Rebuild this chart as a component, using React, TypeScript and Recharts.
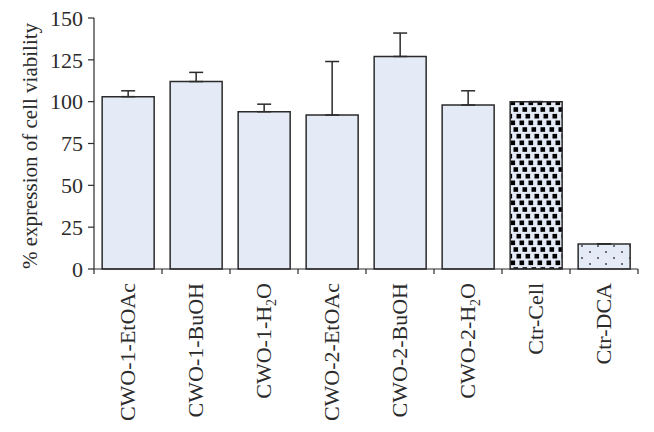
import { BarChart, Bar, XAxis, YAxis, Cell, ErrorBar } from 'recharts';

const categories = [
  'CWO-1-EtOAc',
  'CWO-1-BuOH',
  'CWO-1-H2O',
  'CWO-2-EtOAc',
  'CWO-2-BuOH',
  'CWO-2-H2O',
  'Ctr-Cell',
  'Ctr-DCA',
];
const viability = [103, 112, 94, 92, 127, 98, 100, 15];
const errorUp = [3.5, 5.5, 4.5, 32, 14, 8.5, 0, 0];
const yTicks = [0, 25, 50, 75, 100, 125, 150];

const FONT = '"Liberation Serif", "Times New Roman", serif';
const BAR_FILL = '#e5ebf6';
const INK = '#2b2b2b';

const W = 654;
const H = 432;
const MARGIN = { top: 18, right: 16, bottom: 0, left: 0 };
const Y_AXIS_W = 94;
const X_AXIS_H = 163;
const BAND = (W - MARGIN.left - MARGIN.right - Y_AXIS_W) / categories.length;

const data = categories.map((name, i) => ({
  name,
  value: viability[i],
  err: [0, errorUp[i]],
}));

function CategoryTick(props: any) {
  const { x, y, payload, index } = props;
  const label: string = payload.value;
  const bx = x - BAND / 2;
  const ty = y + 14;
  const tx = x + 7;
  const parts = label.split('H2O');
  return (
    <g>
      <line x1={bx} y1={y} x2={bx} y2={y + 5} stroke={INK} strokeWidth={1.2} />
      {index === categories.length - 1 && (
        <line x1={x + BAND / 2} y1={y} x2={x + BAND / 2} y2={y + 5} stroke={INK} strokeWidth={1.2} />
      )}
      <text
        x={tx}
        y={ty}
        transform={`rotate(-90, ${tx}, ${ty})`}
        textAnchor="end"
        fontFamily={FONT}
        fontSize={22}
        fill={INK}
      >
        {parts.length > 1 ? (
          <>
            {parts[0]}H
            <tspan fontSize={14} dy={5}>2</tspan>
            <tspan dy={-5}>O</tspan>
          </>
        ) : (
          label
        )}
      </text>
    </g>
  );
}

function YLabel() {
  return (
    <text
      x={30}
      y={146}
      transform="rotate(-90, 30, 146)"
      textAnchor="middle"
      dominantBaseline="central"
      fontFamily={FONT}
      fontSize={21}
      fill={INK}
    >
      % expression of cell viability
    </text>
  );
}

export default function App() {
  return (
    <div style={{ position: 'absolute', left: 0, top: 0, background: '#fff' }}>
      <BarChart width={W} height={H} data={data} margin={MARGIN} barCategoryGap="12%">
        <defs>
          <pattern id="cellPat" width="9" height="20" patternUnits="userSpaceOnUse" x="510" y="0">
            <rect width="9" height="20" fill={BAR_FILL} />
            <rect x="0.5" y="0.5" width="4.6" height="4.6" fill="#000" />
            <rect x="3.5" y="7.2" width="4.6" height="4.6" fill="#000" />
            <rect x="6.5" y="13.9" width="4.6" height="4.6" fill="#000" />
            <rect x="-2.5" y="13.9" width="4.6" height="4.6" fill="#000" />
          </pattern>
          <pattern id="dcaPat" width="16" height="12" patternUnits="userSpaceOnUse" x="578" y="243">
            <rect width="16" height="12" fill={BAR_FILL} />
            <circle cx="4" cy="3" r="0.9" fill="#333" />
            <circle cx="12" cy="9" r="0.9" fill="#333" />
          </pattern>
        </defs>
        <XAxis
          dataKey="name"
          height={X_AXIS_H}
          interval={0}
          tickLine={false}
          tickSize={0}
          tickMargin={0}
          axisLine={{ stroke: INK, strokeWidth: 1.2 }}
          tick={<CategoryTick />}
        />
        <YAxis
          width={Y_AXIS_W}
          domain={[0, 150]}
          ticks={yTicks}
          interval={0}
          tickSize={6}
          tickMargin={5}
          axisLine={{ stroke: INK, strokeWidth: 1.2 }}
          tickLine={{ stroke: INK, strokeWidth: 1.2 }}
          tick={{ fontFamily: FONT, fontSize: 22, fill: INK }}
          label={<YLabel />}
        />
        <Bar dataKey="value" stroke={INK} strokeWidth={1.5} isAnimationActive={false}>
          {data.map((d) => (
            <Cell
              key={d.name}
              fill={d.name === 'Ctr-Cell' ? 'url(#cellPat)' : d.name === 'Ctr-DCA' ? 'url(#dcaPat)' : BAR_FILL}
            />
          ))}
          <ErrorBar dataKey="err" width={7} stroke={INK} strokeWidth={1.5} direction="y" isAnimationActive={false} />
        </Bar>
      </BarChart>
    </div>
  );
}
